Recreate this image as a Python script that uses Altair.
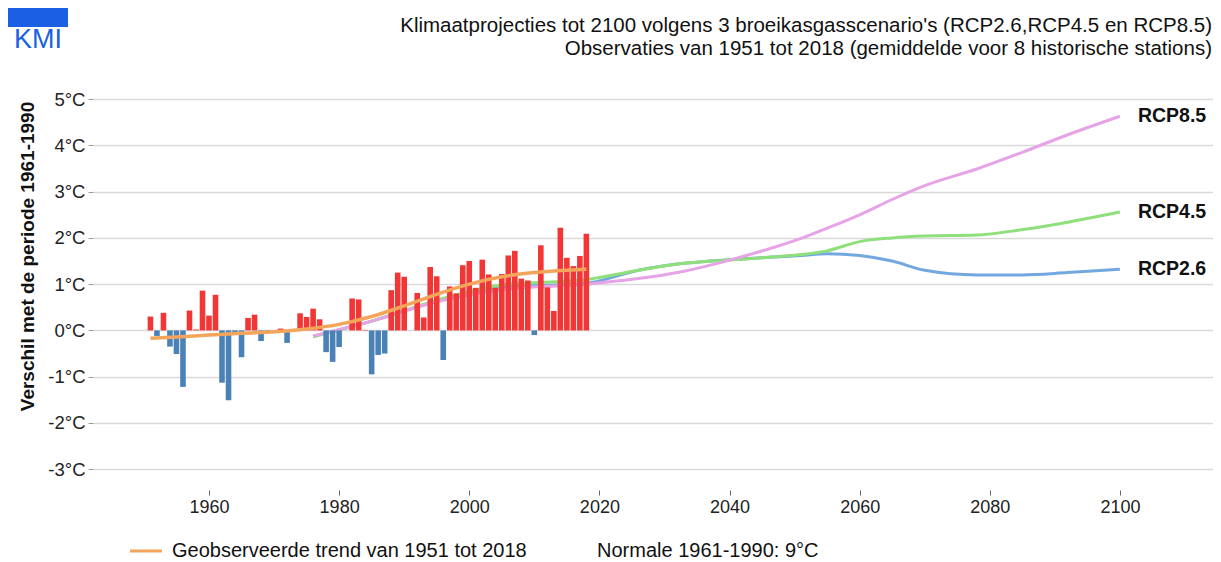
import altair as alt
import pandas as pd

# ---------------- data ----------------
years = list(range(1951, 2019))
anomalies = [
    0.30, -0.12, 0.38, -0.35, -0.51, -1.22, 0.43, 0.02, 0.86, 0.32,   # 1951-1960
    0.77, -1.13, -1.51, -0.04, -0.58, 0.27, 0.34, -0.23, -0.02, 0.00,  # 1961-1970
    0.04, -0.27, 0.00, 0.37, 0.29, 0.47, 0.24, -0.47, -0.68, -0.36,   # 1971-1980
    0.00, 0.69, 0.67, 0.01, -0.95, -0.53, -0.50, 0.87, 1.25, 1.16,    # 1981-1990
    0.00, 0.81, 0.28, 1.37, 1.17, -0.64, 0.95, 0.80, 1.41, 1.50,      # 1991-2000
    0.92, 1.53, 1.21, 0.92, 1.22, 1.62, 1.72, 1.12, 1.08, -0.10,      # 2001-2010
    1.84, 0.93, 0.42, 2.22, 1.57, 1.39, 1.61, 2.09,                   # 2011-2018
]

trend_years = [1951, 1955, 1960, 1965, 1970, 1975, 1980, 1985, 1990, 1995, 2000, 2005, 2010, 2015, 2018]
trend_values = [-0.17, -0.14, -0.10, -0.06, -0.03, 0.03, 0.13, 0.30, 0.53, 0.78, 1.00, 1.16, 1.25, 1.30, 1.32]

rcp_years = [1976, 1985, 1995, 2005, 2018, 2026, 2033, 2040, 2046, 2051, 2055, 2060, 2065, 2070, 2078, 2085, 2092, 2100]
rcp26 = [-0.13, 0.20, 0.63, 0.93, 1.02, 1.30, 1.45, 1.53, 1.58, 1.62, 1.66, 1.62, 1.50, 1.30, 1.20, 1.20, 1.25, 1.32]
rcp45 = [-0.14, 0.20, 0.65, 0.98, 1.10, 1.30, 1.45, 1.52, 1.58, 1.64, 1.72, 1.92, 2.00, 2.04, 2.06, 2.18, 2.34, 2.56]
rcp85 = [-0.12, 0.20, 0.62, 0.88, 1.00, 1.12, 1.28, 1.52, 1.76, 1.99, 2.21, 2.50, 2.83, 3.13, 3.49, 3.85, 4.23, 4.63]

scenario_names = ["RCP2.6", "RCP4.5", "RCP8.5"]
scenario_colors = ["#72a8df", "#8fe07a", "#e6a3e6"]

x_ticks = [1960, 1980, 2000, 2020, 2040, 2060, 2080, 2100]
y_ticks = [-3, -2, -1, 0, 1, 2, 3, 4, 5]

title_lines = [
    "Klimaatprojecties tot 2100 volgens 3 broeikasgasscenario's (RCP2.6,RCP4.5 en RCP8.5)",
    "Observaties van 1951 tot 2018 (gemiddelde voor 8 historische stations)",
]
y_title = "Verschil met de periode 1961-1990"
legend_trend = "Geobserveerde trend van 1951 tot 2018"
legend_normal = "Normale 1961-1990: 9°C"

FONT = "Liberation Sans"
W, H = 1120, 414
RED, BLUE = "#f23535", "#4a82b8"
ORANGE = "#f5a55a"

# ---------------- tables ----------------
bars_df = pd.DataFrame({"jaar": years, "waarde": anomalies})
trend_df = pd.DataFrame({"jaar": trend_years, "waarde": trend_values})
rcp_df = pd.concat([
    pd.DataFrame({"jaar": rcp_years, "waarde": vals, "scenario": name})
    for name, vals in zip(scenario_names, [rcp26, rcp45, rcp85])
])
labels_df = pd.DataFrame({
    "jaar": [2100] * 3,
    "waarde": [rcp26[-1], rcp45[-1], rcp85[-1]],
    "scenario": scenario_names,
})

xscale = alt.Scale(domain=[1942.94, 2113.54], nice=False, zero=False)
yscale = alt.Scale(domain=[-3.45, 5.5], nice=False, zero=False)

X = alt.X("jaar:Q", scale=xscale, axis=alt.Axis(
    values=x_ticks, format="d", title=None, grid=False, domain=False,
    ticks=True, tickSize=5, tickColor="#666", tickWidth=1,
    labelFontSize=18, labelFont=FONT, labelColor="#222", labelPadding=3,
))
Y = alt.Y("waarde:Q", scale=yscale, axis=alt.Axis(
    values=y_ticks, labelExpr="datum.value + '°C'", title=y_title,
    grid=True, gridColor="#d9d9d9", gridWidth=1.5, domain=False,
    ticks=True, tickSize=5, tickColor="#999", tickWidth=1,
    labelFontSize=18.5, labelFont=FONT, labelColor="#222", labelPadding=3,
    titleFont=FONT, titleFontSize=19, titleFontWeight="bold", titleColor="#111",
    titleX=-60, titleY=180, titleAngle=270, titleBaseline="alphabetic", titleAlign="center",
))

rcp_lines = alt.Chart(rcp_df).mark_line(strokeWidth=3, interpolate="monotone").encode(
    x=X, y=Y,
    color=alt.Color("scenario:N", scale=alt.Scale(domain=scenario_names, range=scenario_colors), legend=None),
    detail="scenario:N",
)

bars = alt.Chart(bars_df).mark_bar(size=5.6).encode(
    x=X, y=Y, y2=alt.datum(0),
    color=alt.condition("datum.waarde >= 0", alt.value(RED), alt.value(BLUE)),
)

trend = alt.Chart(trend_df).mark_line(strokeWidth=3.5, color=ORANGE, interpolate="monotone").encode(x=X, y=Y)

rcp_labels = alt.Chart(labels_df).mark_text(
    align="left", baseline="middle", dx=18, fontSize=19.5, fontWeight="bold", font=FONT, color="#111"
).encode(x=X, y=Y, text="scenario:N")

one = pd.DataFrame({"a": [0]})

title1 = alt.Chart(one).mark_text(align="right", baseline="alphabetic", fontSize=20.5, font=FONT, color="#111").encode(
    x=alt.value(W - 1), y=alt.value(-44), text=alt.value(title_lines[0]))
title2 = alt.Chart(one).mark_text(align="right", baseline="alphabetic", fontSize=20.5, font=FONT, color="#111").encode(
    x=alt.value(W - 1), y=alt.value(-21.5), text=alt.value(title_lines[1]))

logo_box = alt.Chart(one).mark_rect(color="#1b5fe3").encode(
    x=alt.value(-85), x2=alt.value(-25), y=alt.value(-68), y2=alt.value(-49))
logo_text = alt.Chart(one).mark_text(align="center", baseline="alphabetic", fontSize=27, font=FONT, color="#1b5fe3").encode(
    x=alt.value(-55), y=alt.value(-28), text=alt.value("KMI"))

leg_line = alt.Chart(one).mark_rule(color=ORANGE, strokeWidth=3).encode(
    x=alt.value(37), x2=alt.value(69), y=alt.value(475))
leg_text1 = alt.Chart(one).mark_text(align="left", baseline="alphabetic", fontSize=20, font=FONT, color="#111").encode(
    x=alt.value(79), y=alt.value(481), text=alt.value(legend_trend))
leg_text2 = alt.Chart(one).mark_text(align="left", baseline="alphabetic", fontSize=20, font=FONT, color="#111").encode(
    x=alt.value(504), y=alt.value(481), text=alt.value(legend_normal))

chart = alt.layer(
    rcp_lines, bars, trend, rcp_labels,
    title1, title2, logo_box, logo_text, leg_line, leg_text1, leg_text2,
).properties(
    width=W, height=H,
    autosize=alt.AutoSizeParams(type="none"),
    padding={"left": 85, "top": 68, "right": 0, "bottom": 76},
).configure(font=FONT).configure_view(stroke=None)

chart.save("out.html", embed_options={"renderer": "svg", "actions": False})
